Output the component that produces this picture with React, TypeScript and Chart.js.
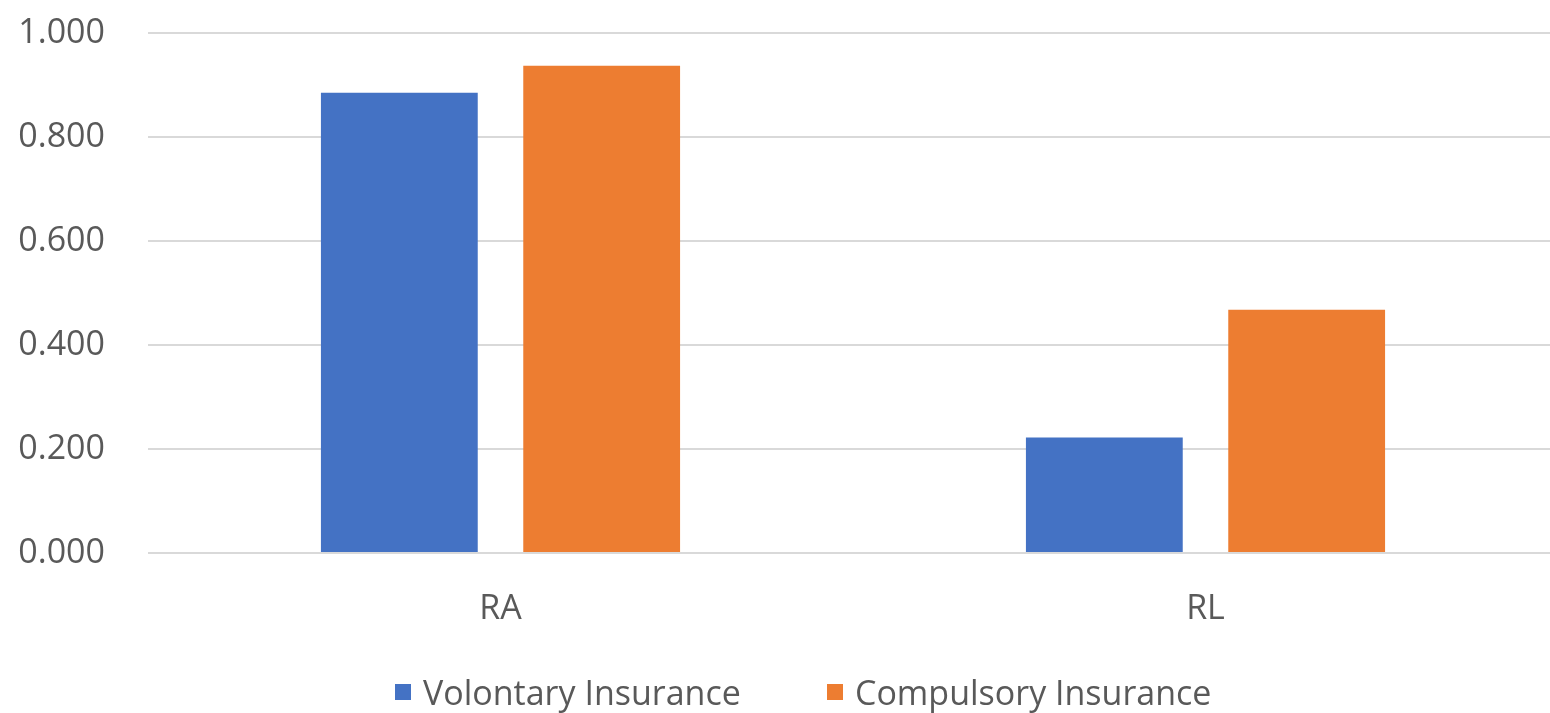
import React, { useEffect, useRef } from "react";
import { Chart, registerables } from "chart.js";

Chart.register(...registerables);

// Categories and series values
const categories: string[] = ["RA", "RL"];
const voluntaryValues: number[] = [0.885, 0.222];
const compulsoryValues: number[] = [0.937, 0.468];
const seriesNames: string[] = ["Volontary Insurance", "Compulsory Insurance"];
const seriesColors: string[] = ["#4472C4", "#ED7D31"];

// Y axis range and step
const yMin = 0;
const yMax = 1;
const yStep = 0.2;

const TEXT = "#595959";
const GRID = "#d9d9d9";
const FONT = "'Open Sans', 'Noto Sans', sans-serif";
const FONT_SIZE = 34;

// Left offsets of the two legend entries
const legendOffsets: number[] = [395, 827];

export default function App() {
  const canvasRef = useRef<HTMLCanvasElement | null>(null);

  useEffect(() => {
    if (!canvasRef.current) return;
    const chart = new Chart(canvasRef.current, {
      type: "bar",
      data: {
        labels: categories,
        datasets: [
          {
            label: seriesNames[0],
            data: voluntaryValues,
            backgroundColor: seriesColors[0],
            categoryPercentage: 0.574,
            barPercentage: 0.775,
          },
          {
            label: seriesNames[1],
            data: compulsoryValues,
            backgroundColor: seriesColors[1],
            categoryPercentage: 0.574,
            barPercentage: 0.775,
          },
        ],
      },
      options: {
        responsive: false,
        animation: false,
        layout: { padding: { left: 18, top: 33, right: 0, bottom: 80 } },
        plugins: {
          legend: { display: false },
          tooltip: { enabled: false },
          title: { display: false },
        },
        scales: {
          x: {
            grid: { display: false, drawTicks: false },
            border: { display: false },
            ticks: {
              color: TEXT,
              font: { family: FONT, size: FONT_SIZE },
              padding: 36,
            },
            afterFit: (scale: any) => {
              scale.height = 80;
              scale.paddingLeft = 0;
              scale.paddingRight = 0;
            },
          },
          y: {
            min: yMin,
            max: yMax,
            grid: { color: GRID, lineWidth: 2, drawTicks: false },
            border: { display: false },
            ticks: {
              stepSize: yStep,
              color: TEXT,
              font: { family: FONT, size: FONT_SIZE },
              padding: 43,
              callback: (v: any) => Number(v).toFixed(3),
            },
            afterFit: (scale: any) => {
              scale.width = 130;
              scale.paddingTop = 0;
              scale.paddingBottom = 0;
            },
          },
        },
      },
    });
    return () => chart.destroy();
  }, []);

  return (
    <div
      style={{
        position: "fixed",
        left: 0,
        top: 0,
        width: 1550,
        height: 713,
        overflow: "hidden",
        background: "#ffffff",
      }}
    >
      <canvas
        ref={canvasRef}
        width={1558}
        height={713}
        style={{ width: 1558, height: 713, display: "block" }}
      />
      {seriesNames.map((name, i) => (
        <div
          key={name}
          style={{
            position: "absolute",
            left: legendOffsets[i],
            top: 670,
            height: 44,
            display: "flex",
            alignItems: "center",
            fontFamily: FONT,
            fontSize: FONT_SIZE,
            color: TEXT,
            whiteSpace: "nowrap",
          }}
        >
          <span
            style={{
              display: "inline-block",
              width: 16,
              height: 16,
              background: seriesColors[i],
              marginRight: 12,
            }}
          />
          <span>{name}</span>
        </div>
      ))}
    </div>
  );
}
